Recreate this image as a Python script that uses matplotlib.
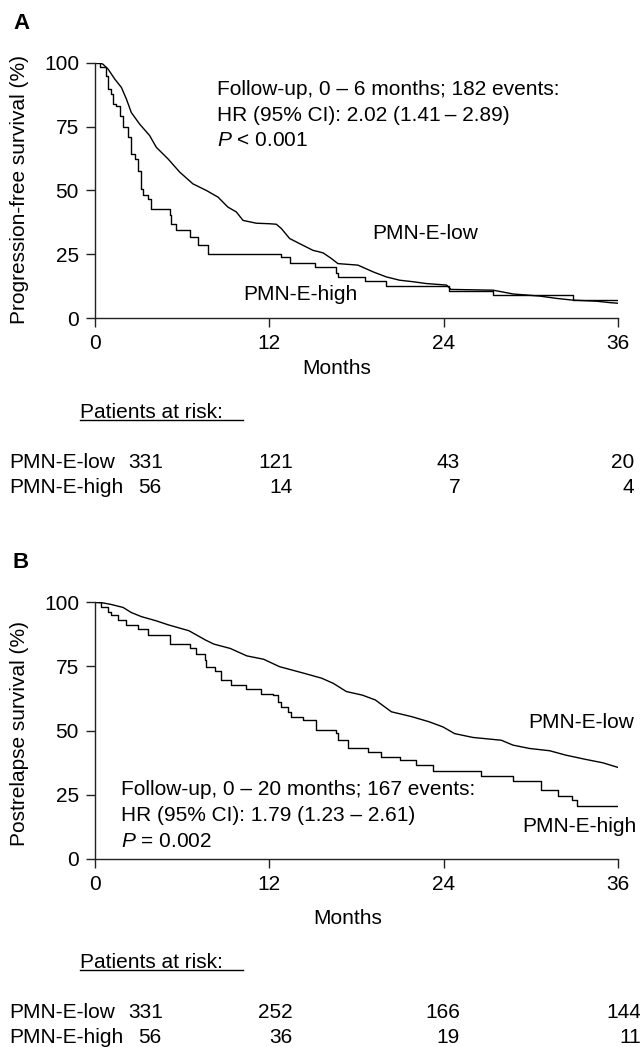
import numpy as np
import matplotlib
matplotlib.use('Agg')
import matplotlib.pyplot as plt
from matplotlib.lines import Line2D

plt.rcParams['font.family'] = ['Liberation Sans', 'DejaVu Sans']
plt.rcParams['mathtext.fontset'] = 'custom'
plt.rcParams['mathtext.it'] = 'Liberation Sans:italic'
plt.rcParams['mathtext.rm'] = 'Liberation Sans'

# ---- panel A: progression-free survival ----
a_low_t = [0, 0.3, 0.55, 0.9, 1.36, 1.82, 2.16, 2.5, 3.07, 3.76, 4.22, 5.02, 5.83, 6.74,
           7.67, 8.47, 9.15, 9.73, 10.19, 11.1, 12.0, 12.48, 12.83, 13.4, 14.09, 15.0,
           15.7, 16.27, 16.72, 18.1, 19.13, 20.05, 20.97, 21.9, 22.8, 24.2, 24.5, 27.4,
           28.8, 30.6, 31.75, 32.9, 34.5, 35.5, 36]
a_low_s = [100, 100, 99.4, 97.5, 93.6, 90.3, 85.8, 80.5, 76, 71.5, 66.9, 62.4, 57.2, 52.6,
           50, 47.4, 43.5, 41.6, 38.3, 37.2, 37, 36.8, 35.1, 31.2, 29.2, 26.6,
           25.6, 23.4, 21.4, 20.8, 18.2, 16.2, 14.9, 14.3, 13.6, 13.0, 11.3, 11.0,
           9.5, 8.7, 7.8, 7.1, 6.7, 6.1, 5.9]

a_high_t = [0, 0.32, 0.7, 0.78, 0.9, 1.13, 1.24, 1.47, 1.7, 1.93, 2.27, 2.5, 2.73, 2.96,
            3.19, 3.3, 3.65, 3.88, 5.14, 5.26, 5.55, 6.52, 7.09, 7.78, 12.83, 13.4,
            15.12, 16.6, 16.72, 18.56, 20.05, 24.4, 27.4, 32.9, 36]
a_high_s = [100, 98.3, 98.3, 94.9, 89.7, 87.7, 83.8, 83.2, 79.3, 74.7, 70.8, 64.3, 62.4, 57.8,
            50.7, 48.1, 46.8, 42.9, 40.3, 37, 34.4, 31.8, 28.6, 25, 23.8, 21.7,
            19.9, 17.8, 16.2, 14.5, 12.6, 10.8, 9.1, 7.1, 7.1]

# ---- panel B: postrelapse survival ----
b_low_t = [0, 0.5, 1.08, 1.93, 2.5, 3.2, 4.2, 5.05, 6.47, 7.6, 8.18, 9.31, 10.45, 11.6,
           12.7, 14.4, 15.6, 16.4, 17.3, 18.4, 19.3, 20.4, 21.8, 23.0, 23.95, 24.75,
           26.0, 27.97, 28.77, 29.9, 31.3, 32.4, 33.8, 34.96, 36]
b_low_s = [100, 99.8, 99.2, 98, 96, 94.4, 92.8, 91.2, 88.9, 85.3, 83.7, 82, 79.1, 77.8,
           74.9, 72.3, 70.4, 68.4, 65.2, 63.8, 61.9, 57.3, 55.4, 53.4, 51.4, 48.8,
           47.3, 46.2, 44.3, 43, 42.1, 40.4, 38.7, 37.4, 35.6]

b_high_t = [0, 0.4, 0.9, 1.13, 1.58, 2.16, 2.96, 3.65, 5.14, 6.52, 6.98, 7.55, 7.67, 8.24,
            8.7, 9.39, 10.4, 11.45, 12.25, 12.6, 12.83, 13.28, 13.5, 14.3, 15.24, 16.6,
            16.7, 17.4, 18.8, 19.7, 20.97, 22.1, 23.26, 26.6, 28.77, 30.7, 31.9, 32.8,
            33.2, 36]
b_high_s = [100, 98.2, 96.2, 94.9, 93, 91.3, 89.5, 87.4, 83.9, 82.2, 80, 77.4, 74.8, 73.1,
            69.6, 67.7, 66.1, 64.4, 63.8, 61.2, 59.2, 57.3, 55.3, 54, 50.1, 48.9,
            46.2, 43, 41.7, 39.7, 38.4, 36.5, 34.3, 32.2, 30.3, 26.8, 24.5, 22.9,
            20.7, 20.7]

risk_months = [0, 12, 24, 36]
a_risk_low = [331, 121, 43, 20]
a_risk_high = [56, 14, 7, 4]
b_risk_low = [331, 252, 166, 144]
b_risk_high = [56, 36, 19, 11]

W, H = 640, 1047
fig = plt.figure(figsize=(W / 100, H / 100), dpi=100)
FS = 15


def fx(x):
    return x / W


def fy(y):
    return 1 - y / H


def make_axes(top, bottom):
    ax = fig.add_axes([fx(95), fy(bottom), fx(618) - fx(95), fy(top) - fy(bottom)])
    ax.set_xlim(0, 36)
    ax.set_ylim(0, 100)
    ax.spines['top'].set_visible(False)
    ax.spines['right'].set_visible(False)
    for s in ['left', 'bottom']:
        ax.spines[s].set_linewidth(1.0)
        ax.spines[s].set_color('#222222')
    ax.set_xticks([0, 12, 24, 36])
    ax.set_yticks([0, 25, 50, 75, 100])
    ax.tick_params(length=6.5, width=1.0, pad=5, labelsize=FS, color='#222222')
    return ax


# ---------------- panel A ----------------
axA = make_axes(62.7, 318.3)
axA.plot(a_low_t, a_low_s, color='black', lw=1.0)
axA.plot(a_high_t, a_high_s, color='black', lw=1.0, drawstyle='steps-post')

fig.text(fx(13), fy(29), 'A', fontsize=16, fontweight='bold', va='baseline')
fig.text(fx(20), fy(190), 'Progression-free survival (%)', rotation=90,
         fontsize=FS, ha='center', va='center')
fig.text(fx(337), fy(369), 'Months', fontsize=FS, ha='center', va='center')
fig.text(fx(217), fy(95), 'Follow-up, 0 \u2013 6 months; 182 events:', fontsize=FS, va='baseline')
fig.text(fx(217), fy(121), 'HR (95% CI): 2.02 (1.41\u2009\u2013 2.89)', fontsize=FS, va='baseline')
fig.text(fx(217), fy(146), '$P$ < 0.001', fontsize=FS, va='baseline')
fig.text(fx(372), fy(239), 'PMN-E-low', fontsize=FS, va='baseline')
fig.text(fx(243), fy(300), 'PMN-E-high', fontsize=FS, va='baseline')

# ---------------- panel B ----------------
axB = make_axes(602.3, 858.7)
axB.plot(b_low_t, b_low_s, color='black', lw=1.0)
axB.plot(b_high_t, b_high_s, color='black', lw=1.0, drawstyle='steps-post')

fig.text(fx(12), fy(568), 'B', fontsize=16, fontweight='bold', va='baseline')
fig.text(fx(20), fy(733), 'Postrelapse survival (%)', rotation=90,
         fontsize=FS, ha='center', va='center')
fig.text(fx(348), fy(918), 'Months', fontsize=FS, ha='center', va='center')
fig.text(fx(121), fy(795), 'Follow-up, 0 \u2013 20 months; 167 events:', fontsize=FS, va='baseline')
fig.text(fx(121), fy(821), 'HR (95% CI): 1.79 (1.23 \u2013 2.61)', fontsize=FS, va='baseline')
fig.text(fx(121), fy(847), '$P$ = 0.002', fontsize=FS, va='baseline')
fig.text(fx(528), fy(728), 'PMN-E-low', fontsize=FS, va='baseline')
fig.text(fx(522), fy(832), 'PMN-E-high', fontsize=FS, va='baseline')

# ---------------- risk tables ----------------
col_right = [163, 293, 460, 634]


def risk_table(y_head, y1, y2, low, high, right_last):
    fig.text(fx(80), fy(y_head), 'Patients at risk:', fontsize=FS, va='baseline')
    fig.add_artist(Line2D([fx(80), fx(243)], [fy(y_head + 2), fy(y_head + 2)],
                          color='black', lw=1.0))
    fig.text(fx(9), fy(y1), 'PMN-E-low', fontsize=FS, va='baseline')
    fig.text(fx(9), fy(y2), 'PMN-E-high', fontsize=FS, va='baseline')
    xs = col_right[:3] + [right_last]
    for i in range(len(risk_months)):
        fig.text(fx(xs[i]), fy(y1), str(low[i]), fontsize=FS, va='baseline', ha='right')
        fig.text(fx(xs[i] - 2 if i == 0 else xs[i]), fy(y2), str(high[i]), fontsize=FS,
                 va='baseline', ha='right')


risk_table(418, 468, 493, a_risk_low, a_risk_high, 634)
risk_table(968, 1018, 1043, b_risk_low, b_risk_high, 641)

fig.savefig('out.png', dpi=100)
